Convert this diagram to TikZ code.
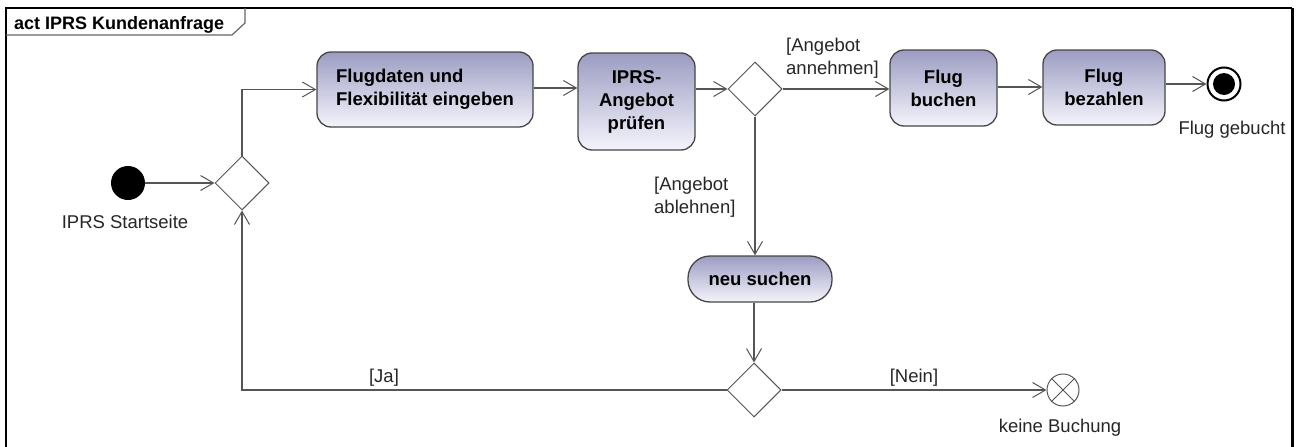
\documentclass[tikz,border=0pt]{standalone}
\usepackage{fontspec}
\setmainfont{Liberation Sans}
\usetikzlibrary{shapes.geometric,arrows.meta,calc}
\definecolor{linec}{RGB}{85,85,85}
\definecolor{boxtop}{RGB}{156,156,194}
\definecolor{boxbot}{RGB}{244,244,252}
\definecolor{boxedge}{RGB}{70,70,70}
\begin{document}
\begin{tikzpicture}[x=1pt,y=-1pt,
  actbox/.style={draw=boxedge,line width=1.3pt,rounded corners=14pt,top color=boxtop,bottom color=boxbot,
    inner sep=0pt,align=center,font=\fontsize{18.5}{23}\selectfont\bfseries},
  decis/.style={diamond,draw=linec,line width=1pt,fill=white,minimum width=54pt,minimum height=54pt,inner sep=0pt},
  lbl/.style={font=\fontsize{18.5}{23}\selectfont,inner sep=0pt,text=black!85},
  flow/.style={draw=linec,line width=1.2pt,-{Straight Barb[length=13pt,width=15pt,line width=1pt]}}
]
\useasboundingbox (0,0) rectangle (1301,447);
% frame
\draw[line width=2.5pt] (6,447) -- (6,8) -- (1292,8);
\draw[line width=3pt] (1292,8) -- (1292,447);
\draw[line width=1.2pt,draw=black!60] (245,8) -- (245,23) -- (232,35) -- (6,35);
\node[anchor=base west,inner sep=0pt,font=\fontsize{18}{22}\selectfont\bfseries] (title) at (14,29) {act IPRS Kundenanfrage};

% nodes
\node[circle,fill=black,minimum size=34pt,inner sep=0pt] (init) at (128,183) {};
\node[lbl] (initl) at (125,222) {IPRS Startseite};
\node[decis] (d1) at (242,183) {};
\node[actbox,minimum width=216pt,minimum height=75pt,align=left] (flug) at (425,89.5) {Flugdaten und\\Flexibilität eingeben};
\node[actbox,minimum width=117pt,minimum height=97pt] (iprs) at (636.5,101.5) {IPRS-\\Angebot\\prüfen};
\node[decis] (d3) at (755,89) {};
\node[actbox,minimum width=107pt,minimum height=76pt] (buchen) at (943.5,88) {Flug\\buchen};
\node[actbox,minimum width=122pt,minimum height=75pt] (bez) at (1104,87.5) {Flug\\bezahlen};
\node[circle,draw=black,line width=2pt,fill=white,minimum size=33pt,inner sep=0pt] (fin) at (1224,84) {};
\node[circle,fill=black,minimum size=22pt,inner sep=0pt] (fininner) at (fin.center) {};
\node[lbl] (finl) at (1232,130) {Flug gebucht};
\node[actbox,rounded corners=22pt,minimum width=144pt,minimum height=46pt] (ns) at (760,279) {neu suchen};
\node[decis] (d2) at (754,390) {};
\node[circle,draw=linec,line width=1pt,fill=white,minimum size=32pt,inner sep=0pt] (ff) at (1063,390) {};
\draw[linec,line width=1pt] (ff.north east) -- (ff.south west) (ff.north west) -- (ff.south east);
\node[lbl] (ffl) at (1060,428) {keine Buchung};

% edge labels
\node[lbl,anchor=west,align=left] (lanneh) at (786,58.5) {[Angebot\\annehmen]};
\node[lbl,anchor=west,align=left] (lableh) at (654,197) {[Angebot\\ablehnen]};
\node[lbl] (lja) at (384,378) {[Ja]};
\node[lbl] (lnein) at (914,378) {[Nein]};

% connectors
\draw[flow] (init.east) -- (d1.west);
\draw[flow] (d1.north) |- (flug.west);
\draw[flow] (flug.east |- 0,88) -- (iprs.west |- 0,88);
\draw[flow] (iprs.east |- d3.west) -- (d3.west);
\draw[flow] (d3.east) -- (d3.east -| buchen.west);
\draw[flow] (buchen.east |- 0,87) -- (bez.west |- 0,87);
\draw[flow] (bez.east |- fin.west) -- (fin.west);
\draw[flow] (d3.south) -- (d3.south |- ns.north);
\draw[flow] (d2.north |- ns.south) -- (d2.north);
\draw[flow] (d2.west) -| (d1.south);
\draw[flow] (d2.east) -- (ff.west);
\end{tikzpicture}
\end{document}
